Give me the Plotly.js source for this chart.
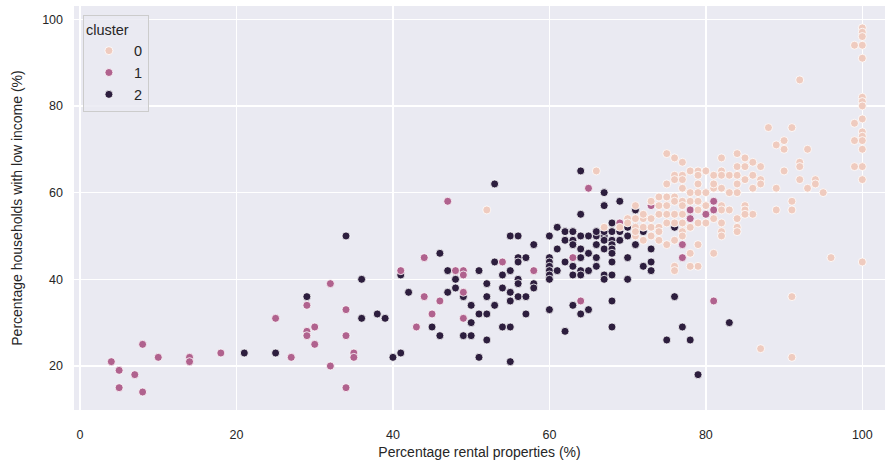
<!DOCTYPE html>
<html>
<head>
<meta charset="utf-8">
<script src="https://cdn.plot.ly/plotly-3.0.1.min.js"></script>
<style>html,body{margin:0;padding:0;background:#fff;}#chart{width:887px;height:464px;}</style>
</head>
<body>
<div id="chart"></div>
<script>
// Cluster labels
const clusters = ['0', '1', '2'];
const clusterColors = ['#efcbbf', '#b0628e', '#2d1e3e'];

// Cluster 0: rental % (x) and low-income % (y)
const c0x = [52,66,67,75,76,77,78,79,80,76,77,77,75,76,79,79,78,79,77,74,75,76,74,75,76,77,77,78,79,80,81,81,81,79,80,
  70,71,72,72,73,73,74,74,75,75,76,76,77,77,71,74,73,74,75,76,77,77,78,79,80,81,78,79,76,81,73,72,71,71,72,79,76,78,71,70,69,
  88,91,89,90,90,93,82,84,85,86,87,84,85,92,92,90,82,83,84,85,86,87,87,86,84,84,83,82,82,92,94,94,93,95,89,91,91,89,86,85,85,85,83,84,84,84,82,82,82,82,82,
  96,100,91,87,91,92,
  100,100,100,100,100,100,100,100,100,100,100,100,100,100,100,99,99,99,99];
const c0y = [56,65,52,69,68,67,65,65,65,64,64,63,62,63,64,62,60,60,61,59,59,59,57,57,58,58,57,58,58,60,61,62,64,56,57,
  54,52,54,52,54,52,55,52,55,53,55,53,55,53,50,51,50,49,48,49,51,50,52,53,53,54,46,43,43,46,58,55,54,51,49,48,42,43,57,53,52,
  75,75,71,72,70,70,68,69,68,67,66,66,66,67,66,65,65,64,64,63,64,63,62,61,62,60,60,61,64,63,63,62,61,60,61,58,56,56,55,57,56,55,56,54,52,51,53,51,50,57,56,
  45,44,36,24,22,86,
  98,97,96,94,91,82,81,80,77,74,73,72,70,66,63,94,76,72,66];

// Cluster 1
const c1x = [4,5,5,7,8,8,10,14,14,18,25,32,29,34,29,29,30,30,34,27,32,35,35,34,41,44,48,49,49,49,44,46,45,49,43,
  47,65,54,58,63,64,69,73,78,78,80,81,81,77,77,81];
const c1y = [21,19,15,18,25,14,22,22,21,23,31,39,34,33,28,27,29,25,27,22,20,23,22,15,42,45,42,42,41,37,36,35,32,31,29,
  58,61,44,42,45,35,53,57,56,54,55,58,56,48,45,35];

// Cluster 2
const c2x = [21,25,29,34,36,36,38,39,40,41,41,42,46,47,48,47,48,49,50,45,46,49,50,
  53,64,67,67,69,64,68,61,55,56,60,64,65,66,67,62,63,66,67,68,69,62,63,67,68,58,63,66,68,61,64,67,68,65,68,
  56,57,60,64,66,53,56,60,62,68,60,63,66,51,55,60,61,64,65,54,60,63,64,67,68,56,60,67,52,56,58,54,58,55,52,56,57,55,68,
  53,63,60,65,51,52,57,64,50,54,55,68,62,52,51,55,
  71,70,71,70,69,72,76,71,73,70,72,73,73,70,76,77,75,78,83,79];
const c2y = [23,23,36,50,40,31,32,31,22,23,41,37,46,42,40,37,38,36,34,29,27,27,27,
  62,65,60,57,58,55,53,52,50,50,50,50,50,50,50,51,51,51,51,51,51,49,49,49,49,48,48,48,48,47,47,47,47,46,46,
  45,45,45,45,45,44,44,44,44,44,43,43,43,42,42,42,42,42,42,41,41,41,41,41,41,40,40,40,39,39,39,38,38,37,36,36,36,35,35,
  34,34,33,33,32,32,32,32,30,29,29,29,28,26,22,21,
  56,52,52,50,49,51,52,48,47,45,43,44,42,40,36,29,26,26,30,18];

const xs = [c0x, c1x, c2x];
const ys = [c0y, c1y, c2y];

const traces = [2, 1, 0].map(i => ({
  type: 'scatter',
  mode: 'markers',
  name: clusters[i],
  x: xs[i],
  y: ys[i],
  marker: { size: 8, color: clusterColors[i], line: { color: '#ffffff', width: 0.8 } }
}));

const fam = 'Liberation Sans, Arial, sans-serif';
const axisFont = { family: fam, size: 12.5, color: '#262626' };
const titleFont = { family: fam, size: 14, color: '#262626' };

const layout = {
  width: 887,
  height: 464,
  margin: { l: 74, r: 2, t: 6, b: 54 },
  paper_bgcolor: '#ffffff',
  plot_bgcolor: '#eaeaf2',
  font: axisFont,
  showlegend: true,
  xaxis: {
    range: [-0.77, 102.9],
    tick0: 0, dtick: 20,
    showgrid: true, gridcolor: '#ffffff', gridwidth: 1.3,
    zeroline: false, showline: false,
    ticks: '', ticklabelstandoff: 15,
    tickfont: axisFont,
    automargin: false,
    title: { text: 'Percentage rental properties (%)', font: titleFont, standoff: 6 }
  },
  yaxis: {
    range: [9.85, 103.05],
    tick0: 0, dtick: 20,
    showgrid: true, gridcolor: '#ffffff', gridwidth: 1.3,
    zeroline: false, showline: false,
    ticks: '', ticklabelstandoff: 10,
    tickfont: axisFont,
    automargin: false,
    title: { text: 'Percentage households with low income (%)', font: titleFont, standoff: 16 }
  },
  legend: {
    x: 0.011, y: 0.978, xanchor: 'left', yanchor: 'top',
    bgcolor: 'rgba(234,234,242,0.85)',
    bordercolor: '#cccccc', borderwidth: 1,
    traceorder: 'reversed',
    itemwidth: 40,
    indentation: 0,
    font: { family: fam, size: 14.5, color: '#262626' },
    title: { text: 'cluster', font: { family: fam, size: 14.5, color: '#262626' } }
  }
};

Plotly.newPlot('chart', traces, layout, { displayModeBar: false, staticPlot: true });
</script>
</body>
</html>
